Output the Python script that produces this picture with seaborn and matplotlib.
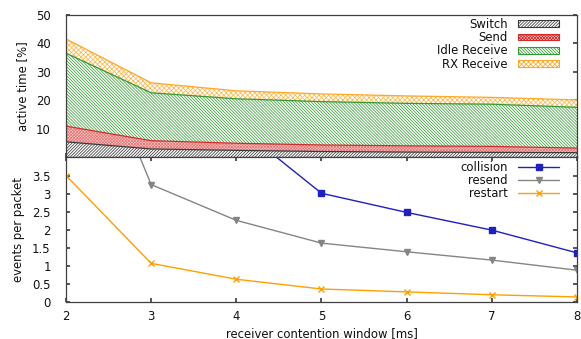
import numpy as np
import matplotlib
matplotlib.use("Agg")
import matplotlib.pyplot as plt
from matplotlib.patches import Patch
import seaborn as sns

# receiver contention window [ms]
window_ms = [2, 3, 4, 5, 6, 7, 8]

# share of active time per radio state [%] (stacked bands)
switch = [5.5, 3.0, 2.5, 2.1, 1.9, 1.8, 1.7]
send = [5.5, 2.9, 2.5, 2.3, 2.2, 2.1, 1.6]
idle_receive = [25.6, 16.8, 15.6, 15.2, 14.9, 14.8, 14.3]
rx_receive = [5.0, 3.5, 2.8, 2.7, 2.6, 2.4, 2.6]

# events per packet
collision = [12.0, 7.5, 4.9, 3.01, 2.48, 1.99, 1.36]
resend = [9.0, 3.25, 2.26, 1.63, 1.39, 1.16, 0.88]
restart = [3.5, 1.07, 0.63, 0.36, 0.28, 0.20, 0.14]

sns.set_theme(style="white")
plt.rcParams["font.family"] = ["DejaVu Sans"]
plt.rcParams["hatch.linewidth"] = 0.55
plt.rcParams["axes.edgecolor"] = "#404040"
plt.rcParams["axes.linewidth"] = 0.9
plt.rcParams["text.color"] = "#111111"
plt.rcParams["axes.labelcolor"] = "#111111"
plt.rcParams["xtick.color"] = "#404040"
plt.rcParams["ytick.color"] = "#404040"
plt.rcParams["xtick.labelcolor"] = "#111111"
plt.rcParams["ytick.labelcolor"] = "#111111"

FS = 8.4

fig = plt.figure(figsize=(5.81, 3.39), dpi=100)
left, right = 66 / 581, 577 / 581
mid = 1 - 157.5 / 339
ax_top = fig.add_axes([left, mid, right - left, (1 - 15 / 339) - mid])
ax_bot = fig.add_axes([left, 1 - 302 / 339, right - left, mid - (1 - 302 / 339)])

# ---- stacked active-time bands ----
states = [
    ("Switch", switch, "#3a3a3a", "#3a3a3a", "white", "/" * 11),
    ("Send", send, "#d42a2a", "#e87878", "#f6d2d2", "x" * 11),
    ("Idle Receive", idle_receive, "#2f9a2f", "#3aa03a", "white", "\\" * 11),
    ("RX Receive", rx_receive, "#ffa726", "#ffb84d", "white", "x" * 7),
]
x = np.array(window_ms, dtype=float)
base = np.zeros_like(x)
handles = []
for name, vals, col, hcol, face, hatch in states:
    top = base + np.array(vals)
    ax_top.fill_between(x, base, top, facecolor=face, edgecolor=hcol,
                        hatch=hatch, linewidth=0, zorder=1)
    sns.lineplot(x=x, y=top, ax=ax_top, color=col, linewidth=0.9, zorder=2)
    handles.append(Patch(facecolor=face, edgecolor=col, hatch=hatch,
                         linewidth=0.8, label=name))
    base = top

ax_top.set_xlim(2, 8)
ax_top.set_ylim(0, 50)
ax_top.set_yticks([10, 20, 30, 40, 50])
ax_top.set_xticks(window_ms)
ax_top.tick_params(axis="x", labelbottom=False, direction="in", length=3,
                   bottom=True, top=False)
ax_top.tick_params(axis="y", direction="in", length=3, left=True, right=True,
                   labelsize=FS, pad=11)
ax_top.set_xlabel("")
ax_top.set_ylabel("active time [%]", fontsize=FS, labelpad=5)
ax_top.legend(handles=handles, loc="upper right", frameon=False,
              markerfirst=False, fontsize=FS, handlelength=3.5,
              handleheight=0.5, labelspacing=0.02, handletextpad=0.9,
              borderaxespad=0.0, bbox_to_anchor=(0.974, 1.012))

# ---- events per packet ----
event_series = [
    ("collision", collision, "#1f1fc4", "s"),
    ("resend", resend, "#858585", "v"),
    ("restart", restart, "#ffa000", "x"),
]
for name, vals, col, mk in event_series:
    sns.lineplot(x=window_ms, y=vals, ax=ax_bot, color=col, marker=mk,
                 markersize=4.5, markeredgewidth=1.0, markeredgecolor=col,
                 linewidth=1.0, label=name)

ax_bot.set_xlim(2, 8)
ax_bot.set_ylim(0, 4)
ax_bot.set_xticks(window_ms)
ax_bot.set_yticks(np.arange(0, 4.0, 0.5))
ax_bot.set_yticklabels(["0", "0.5", "1", "1.5", "2", "2.5", "3", "3.5"])
ax_bot.tick_params(axis="x", direction="in", length=3, top=True, bottom=True,
                   labelsize=FS, pad=6)
ax_bot.tick_params(axis="y", direction="in", length=3, left=True, right=True,
                   labelsize=FS, pad=11)
ax_bot.set_xlabel("receiver contention window [ms]", fontsize=FS, labelpad=3)
ax_bot.set_ylabel("events per packet", fontsize=FS, labelpad=5)
h, l = ax_bot.get_legend_handles_labels()
ax_bot.legend(h, l, loc="upper right", frameon=False, markerfirst=False,
              fontsize=FS, handlelength=3.5, labelspacing=0.02,
              handletextpad=0.9, borderaxespad=0.0,
              bbox_to_anchor=(0.974, 1.008))

for ax in (ax_top, ax_bot):
    for s in ax.spines.values():
        s.set_visible(True)

fig.savefig("out.png", dpi=100)
